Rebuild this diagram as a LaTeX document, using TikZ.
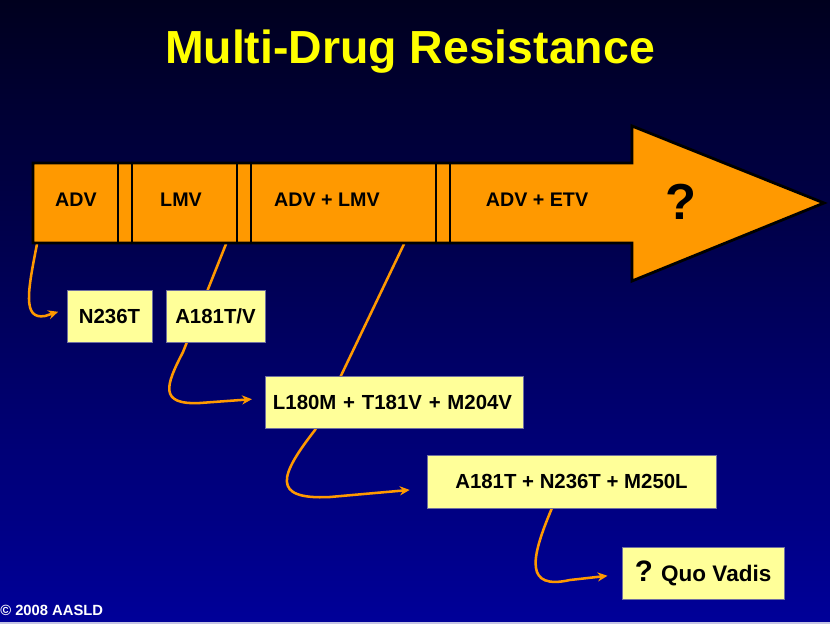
\documentclass[tikz,border=0pt]{standalone}
\usepackage{fontspec}
\setmainfont{Liberation Sans}
\usetikzlibrary{arrows.meta}
\definecolor{slideorange}{HTML}{FF9900}
\definecolor{noteyellow}{HTML}{FFFF99}
\definecolor{titleyellow}{HTML}{FFFF00}
\definecolor{navytop}{HTML}{00001E}
\definecolor{navybottom}{HTML}{000099}
\definecolor{boxedge}{HTML}{7070A0}
\definecolor{slideedge}{HTML}{C4C4E4}
\pgfdeclarelayer{back}
\pgfdeclarelayer{wires}
\pgfsetlayers{back,wires,main}

\begin{document}
\begin{tikzpicture}[x=0.025cm, y=-0.025cm,
    seglabel/.style={font=\fontsize{14}{16}\selectfont\bfseries},
    mutbox/.style={draw=boxedge, line width=0.6pt, fill=noteyellow, minimum height=1.3cm,
      font=\fontsize{14.5}{17}\selectfont\bfseries},
    lineage/.style={draw=slideorange, line width=1.8pt, line cap=round,
      -{Stealth[length=7pt,width=6.5pt]}}]
    \useasboundingbox (0,0) rectangle (830,624);
    \begin{pgfonlayer}{back}
      \shade[top color=navytop, bottom color=navybottom] (0,0) rectangle (830,624);
      \fill[slideedge] (0,621.5) rectangle (830,624);
    \end{pgfonlayer}
    \node[text=titleyellow, font=\fontsize{33}{38}\selectfont\bfseries, anchor=base] (title) at (410,64) {Multi-Drug Resistance};
    \draw[fill=slideorange, line width=2pt, line join=miter] (33,163) -- (632,163) -- (632,126) -- (824,203) -- (632,281) -- (632,243) -- (33,243) -- cycle;
    \foreach \x in {118,132,237,251,436,450}
      \draw[line width=1.3pt] (\x,163) -- (\x,243);
    \node[seglabel] (adv) at (76,200) {ADV};
    \node[seglabel] (lmv) at (181,200) {LMV};
    \node[seglabel] (advlmv) at (327,200) {ADV + LMV};
    \node[seglabel] (advetv) at (537,200) {ADV + ETV};
    \node[font=\fontsize{36}{40}\selectfont\bfseries] (unknown) at (681,202) {?};
    \coordinate (advfoot) at (37,244);
    \coordinate (lmvfoot) at (226,244);
    \coordinate (advlmvfoot) at (404,244);
    \node[mutbox, minimum width=2.125cm] (n236t) at (109.5,316) {N236T};
    \node[mutbox, minimum width=2.475cm] (a181tv) at (215.5,316) {A181T/V};
    \node[mutbox, minimum width=6.45cm, text width=6.05cm, align=left] (l180m) at (394,402) {L180M + T181V + M204V};
    \node[mutbox, minimum width=7.225cm, minimum height=1.325cm] (m250l) at (571.5,481.5) {A181T + N236T + M250L};
    \node[mutbox, minimum width=4.05cm] (quovadis) at (703,573) {\fontsize{21}{24}\selectfont ?\hspace{6pt}\fontsize{16}{19}\selectfont Quo Vadis};
    \begin{pgfonlayer}{wires}
      \draw[lineage] (advfoot) .. controls (28,290) and (22,320) .. (45,316) -- ([xshift=-6pt,yshift=3pt]n236t.west);
      \draw[lineage] (lmvfoot) -- (183,352) .. controls (166,385) and (158,405) .. (200,403) -- ([xshift=-9pt,yshift=2pt]l180m.west);
      \draw[lineage] (advlmvfoot) -- (315,430) .. controls (280,475) and (270,500) .. (330,497) -- ([xshift=-12pt,yshift=-6pt]m250l.west);
      \draw[lineage] ([xshift=-14pt]m250l.south) .. controls (530,560) and (525,590) .. (570,580) -- ([xshift=-10pt,yshift=-2pt]quovadis.west);
    \end{pgfonlayer}
    \node[text=white, font=\fontsize{10.5}{12}\selectfont\bfseries, anchor=base west, inner sep=0pt] (copyright) at (0,615) {© 2008 AASLD};
  \end{tikzpicture}
\end{document}
